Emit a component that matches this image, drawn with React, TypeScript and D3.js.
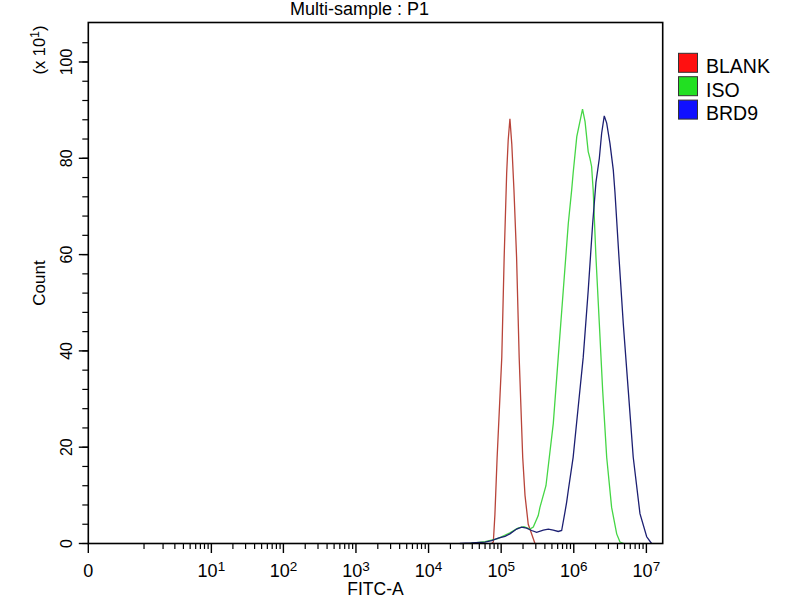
import React, { useRef, useEffect } from 'react';
import * as d3 from 'd3';

// FITC-A histogram values (counts are in units of 10)
const seriesNames = ['BLANK', 'ISO', 'BRD9'];
const lineColors = ['#b8443a', '#45d645', '#1c1f72'];
const swatchColors = ['#ff1010', '#22e022', '#1010ff'];

const blankFitc = [7.4e4, 7.8e4, 8.2e4, 8.8e4, 1.02e5, 1.1e5, 1.19e5, 1.25e5, 1.32e5, 1.4e5, 1.5e5, 1.63e5, 1.77e5, 1.98e5, 2.13e5, 2.36e5, 2.49e5, 2.92e5];
const blankCount = [0, 0.3, 6, 17.9, 38.7, 59.5, 76.8, 83.8, 88.2, 83, 73.4, 59.5, 38.7, 17.9, 10, 4, 3, 0];

const isoFitc = [3.7e4, 6.0e4, 9.0e4, 1.32e5, 1.7e5, 2.06e5, 2.49e5, 2.77e5, 3.24e5, 3.42e5, 4.14e5, 5.22e5, 6.11e5, 7.16e5, 8.4e5, 9.35e5, 9.8e5, 1.1e6, 1.32e6, 1.43e6, 1.58e6, 1.67e6, 1.76e6, 1.85e6, 2.02e6, 2.25e6, 2.5e6, 2.84e6, 3.32e6, 3.9e6, 4.33e6, 4.9e6];
const isoCount = [0, 0.4, 1.0, 2.2, 3.2, 3.5, 3.0, 3.4, 5.8, 7.5, 12, 24.9, 38.7, 52.5, 66.4, 73.4, 76.9, 84.5, 90.2, 87.6, 81.4, 80, 78.3, 73.4, 59.5, 45.6, 31.8, 17.9, 7.5, 2, 0.3, 0];

const brd9Fitc = [2.7e4, 3.9e4, 6.0e4, 7.4e4, 9.1e4, 1.13e5, 1.32e5, 1.63e5, 1.91e5, 2.24e5, 2.63e5, 3.08e5, 3.8e5, 4.46e5, 5.22e5, 6.11e5, 6.81e5, 7.56e5, 7.98e5, 8.4e5, 9.8e5, 1.15e6, 1.35e6, 1.58e6, 1.82e6, 2.02e6, 2.25e6, 2.42e6, 2.63e6, 2.84e6, 3.15e6, 3.5e6, 3.69e6, 4.19e6, 4.81e6, 5.63e6, 6.59e6, 8.16e6, 1.01e7, 1.18e7];
const brd9Count = [0, 0.1, 0.3, 0.6, 1.1, 1.5, 2.0, 3.0, 3.4, 3.2, 2.7, 2.3, 2.8, 3.0, 2.8, 2.5, 2.7, 6.5, 8.6, 11, 17.9, 28.3, 38.7, 52.5, 66.4, 75, 80, 85.2, 88.8, 87.3, 83.1, 77.6, 73, 59.5, 45.6, 31.8, 17.9, 6.2, 1.4, 0];

const xMajorTicks = [0, 1e1, 1e2, 1e3, 1e4, 1e5, 1e6, 1e7];
const xTickExponents = ['', '1', '2', '3', '4', '5', '6', '7'];
const yMajorTicks = [0, 20, 40, 60, 80, 100];

const font = '"Liberation Sans", Arial, sans-serif';

const App = () => {
  const svgRef = useRef(null);

  useEffect(() => {
    const width = 800;
    const height = 600;
    const left = 88.3;
    const right = 662.7;
    const top = 22.5;
    const bottom = 543.5;

    const svg = d3.select(svgRef.current)
      .attr('width', width)
      .attr('height', height);
    svg.selectAll('*').remove();

    // symlog reproduces the cytometer's "0 then decades" axis
    const x = d3.scaleSymlog().constant(0.206).domain([0, 16777215]).range([left, right]);
    const y = d3.scaleLinear().domain([0, 108.2]).range([bottom, top]);

    // title
    svg.append('text')
      .attr('x', 290).attr('y', 15)
      .style('font-family', font).style('font-size', '18px')
      .text('Multi-sample : P1');

    // histograms
    const series = [
      { fitc: blankFitc, count: blankCount },
      { fitc: isoFitc, count: isoCount },
      { fitc: brd9Fitc, count: brd9Count },
    ];
    const line = d3.line().x(d => x(d[0])).y(d => y(d[1]));
    series.forEach((s, i) => {
      const pts = s.fitc.map((v, j) => [v, s.count[j]]);
      svg.append('path')
        .attr('d', line(pts))
        .attr('fill', 'none')
        .attr('stroke', lineColors[i])
        .attr('stroke-width', 1.3);
    });

    // frame
    svg.append('rect')
      .attr('x', left).attr('y', top)
      .attr('width', right - left).attr('height', bottom - top)
      .attr('fill', 'none').attr('stroke', '#000').attr('stroke-width', 1.6);

    // x ticks
    const xMinor = [];
    for (let k = 0; k < 8; k++) {
      for (let m = 1; m < 10; m++) {
        const v = m * Math.pow(10, k);
        if ((m === 1 && k > 0) || v > 16777215) continue;
        xMinor.push(v);
      }
    }
    svg.selectAll('.xminor').data(xMinor).enter().append('line')
      .attr('x1', d => x(d)).attr('x2', d => x(d))
      .attr('y1', bottom).attr('y2', bottom + 5.5)
      .attr('stroke', '#000').attr('stroke-width', 1.2);
    svg.selectAll('.xmajor').data(xMajorTicks).enter().append('line')
      .attr('x1', d => x(d)).attr('x2', d => x(d))
      .attr('y1', bottom).attr('y2', bottom + 9.5)
      .attr('stroke', '#000').attr('stroke-width', 1.4);

    const xl = svg.selectAll('.xlab').data(xMajorTicks).enter().append('text')
      .attr('x', d => x(d)).attr('y', 577)
      .attr('text-anchor', 'middle')
      .style('font-family', font).style('font-size', '18px');
    xl.each(function (d, i) {
      const t = d3.select(this);
      if (d === 0) {
        t.text('0');
      } else {
        t.append('tspan').text('10');
        t.append('tspan').attr('dy', -6).style('font-size', '13.5px').text(xTickExponents[i]);
      }
    });

    svg.append('text')
      .attr('x', (left + right) / 2).attr('y', 595)
      .attr('text-anchor', 'middle')
      .style('font-family', font).style('font-size', '17.5px')
      .text('FITC-A');

    // y ticks
    const yMinor = d3.range(0, 105, 4);
    svg.selectAll('.yminor').data(yMinor).enter().append('line')
      .attr('x1', left - 6).attr('x2', left)
      .attr('y1', d => y(d)).attr('y2', d => y(d))
      .attr('stroke', '#000').attr('stroke-width', 1.2);
    svg.selectAll('.ymajor').data(yMajorTicks).enter().append('line')
      .attr('x1', left - 9.5).attr('x2', left)
      .attr('y1', d => y(d)).attr('y2', d => y(d))
      .attr('stroke', '#000').attr('stroke-width', 1.4);
    svg.selectAll('.ylab').data(yMajorTicks).enter().append('text')
      .attr('transform', d => `translate(71.5,${y(d)}) rotate(-90)`)
      .attr('text-anchor', 'middle')
      .style('font-family', font).style('font-size', '16px')
      .text(d => d);

    svg.append('text')
      .attr('transform', 'translate(45,283) rotate(-90)')
      .attr('text-anchor', 'middle')
      .style('font-family', font).style('font-size', '17px')
      .text('Count');

    const mult = svg.append('text')
      .attr('transform', 'translate(45,50) rotate(-90)')
      .attr('text-anchor', 'middle')
      .style('font-family', font).style('font-size', '16.5px');
    mult.append('tspan').text('(x 10');
    mult.append('tspan').attr('dy', -6).style('font-size', '12.5px').text('1');
    mult.append('tspan').attr('dy', 6).text(')');

    // legend
    const legend = svg.append('g');
    seriesNames.forEach((name, i) => {
      const base = 73.3 + i * 23.4;
      legend.append('rect')
        .attr('x', 678.5).attr('y', base - 20)
        .attr('width', 19).attr('height', 19)
        .attr('fill', swatchColors[i])
        .attr('stroke', '#333').attr('stroke-width', 1);
      legend.append('text')
        .attr('x', 706).attr('y', base)
        .style('font-family', font).style('font-size', '19.5px')
        .text(name);
    });
  }, []);

  return <svg ref={svgRef} style={{ position: 'absolute', left: 0, top: 0, background: '#fff' }}></svg>;
};

export default App;
